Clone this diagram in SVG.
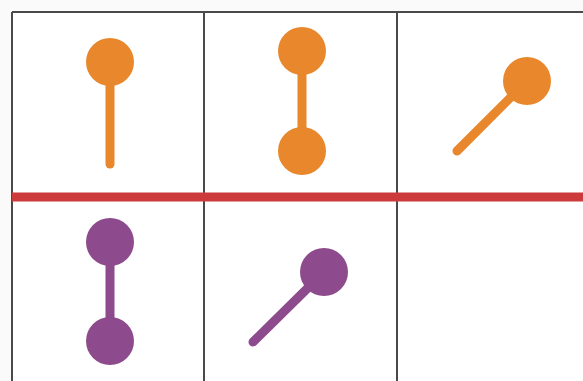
<svg xmlns="http://www.w3.org/2000/svg" width="583" height="381" viewBox="0 0 583 381">
<style>
.grid{stroke:#4a4a4a;stroke-width:2;fill:none}
.o{fill:#e8872c}
.os{stroke:#e8872c;stroke-width:9;stroke-linecap:round}
.p{fill:#8d4a8c}
.ps{stroke:#8d4a8c;stroke-width:9;stroke-linecap:round}
</style>
<rect x="0" y="0" width="583" height="381" fill="#fafafa"/>
<rect x="12" y="12" width="571" height="369" fill="#ffffff"/>
<g id="grid">
<line class="grid" x1="12" y1="12" x2="583" y2="12"/>
<line class="grid" x1="12" y1="12" x2="12" y2="381" stroke="#6a6a6a"/>
<line class="grid" x1="204" y1="12" x2="204" y2="381"/>
<line class="grid" x1="397" y1="12" x2="397" y2="381"/>
<line x1="12" y1="197" x2="583" y2="197" stroke="#cc3a3c" stroke-width="9"/>
</g>
<g id="orange-1">
<line class="os" x1="110" y1="70" x2="110" y2="164"/>
<circle class="o" cx="110" cy="62" r="24"/>
</g>
<g id="orange-2">
<line class="os" x1="302" y1="51" x2="302" y2="151" stroke-width="10"/>
<circle class="o" cx="302" cy="51" r="24"/>
<circle class="o" cx="302" cy="151" r="24"/>
</g>
<g id="orange-3">
<line class="os" x1="527" y1="81" x2="457" y2="151"/>
<circle class="o" cx="527" cy="81" r="24"/>
</g>
<g id="purple-1">
<line class="ps" x1="110" y1="242" x2="110" y2="341"/>
<circle class="p" cx="110" cy="242" r="24"/>
<circle class="p" cx="110" cy="341" r="24"/>
</g>
<g id="purple-2">
<line class="ps" x1="324" y1="272" x2="253" y2="342"/>
<circle class="p" cx="324" cy="272" r="24"/>
</g>
</svg>
